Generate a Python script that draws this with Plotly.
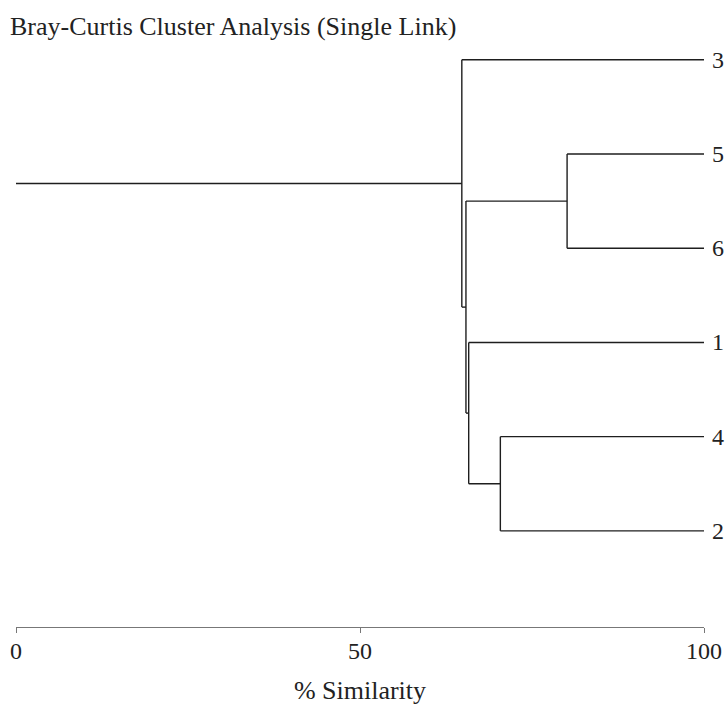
import plotly.graph_objects as go

# Leaf order (top to bottom)
leaf_labels = ["3", "5", "6", "1", "4", "2"]
# Merges (in order of creation): new clusters named C1, C2, ...
merge_left = ["5", "4", "1", "C1", "3"]
merge_right = ["6", "2", "C2", "C3", "C4"]
merge_sim = [80.1, 70.4, 65.8, 65.4, 64.8]
x_ticks = [0, 50, 100]

LEAF_SIM = 100
ROOT_END = 0

ypos = {lab: i for i, lab in enumerate(leaf_labels)}
xpos = {lab: LEAF_SIM for lab in leaf_labels}

xs, ys = [], []
for k, (a, b, s) in enumerate(zip(merge_left, merge_right, merge_sim), start=1):
    for c in (a, b):
        xs += [xpos[c], s, None]
        ys += [ypos[c], ypos[c], None]
    xs += [s, s, None]
    ys += [ypos[a], ypos[b], None]
    name = f"C{k}"
    ypos[name] = (ypos[a] + ypos[b]) / 2
    xpos[name] = s
root = f"C{len(merge_sim)}"
xs += [xpos[root], ROOT_END, None]
ys += [ypos[root], ypos[root], None]

FONT = "Liberation Serif"
fig = go.Figure()
fig.add_trace(go.Scatter(x=xs, y=ys, mode="lines",
                         line=dict(color="#1e1e1e", width=1.4),
                         hoverinfo="skip", showlegend=False))

for lab in leaf_labels:
    fig.add_annotation(x=LEAF_SIM, y=ypos[lab], text=lab, showarrow=False,
                       xanchor="left", xshift=6, yanchor="middle",
                       font=dict(family=FONT, size=24, color="#222"))

fig.add_annotation(xref="paper", yref="paper", x=0, y=1, xshift=-8, yshift=30,
                   text="Bray-Curtis Cluster Analysis (Single Link)", showarrow=False,
                   xanchor="left", yanchor="top",
                   font=dict(family=FONT, size=26, color="#222"))

fig.update_layout(
    width=727, height=705,
    margin=dict(l=16, r=23, t=40, b=78),
    plot_bgcolor="white", paper_bgcolor="white",
    xaxis=dict(range=[0, 100], tickvals=x_ticks, showgrid=False, zeroline=False,
               automargin=False,
               showline=True, linecolor="#777", linewidth=1,
               ticks="outside", ticklen=5, tickcolor="#777",
               ticklabelstandoff=-3,
               tickfont=dict(family=FONT, size=24, color="#222"),
               title=dict(text="% Similarity", font=dict(family=FONT, size=26, color="#222"),
                          standoff=19)),
    yaxis=dict(range=[6.02, -0.21], visible=False, showgrid=False, zeroline=False),
)

fig.write_html("out.html")
